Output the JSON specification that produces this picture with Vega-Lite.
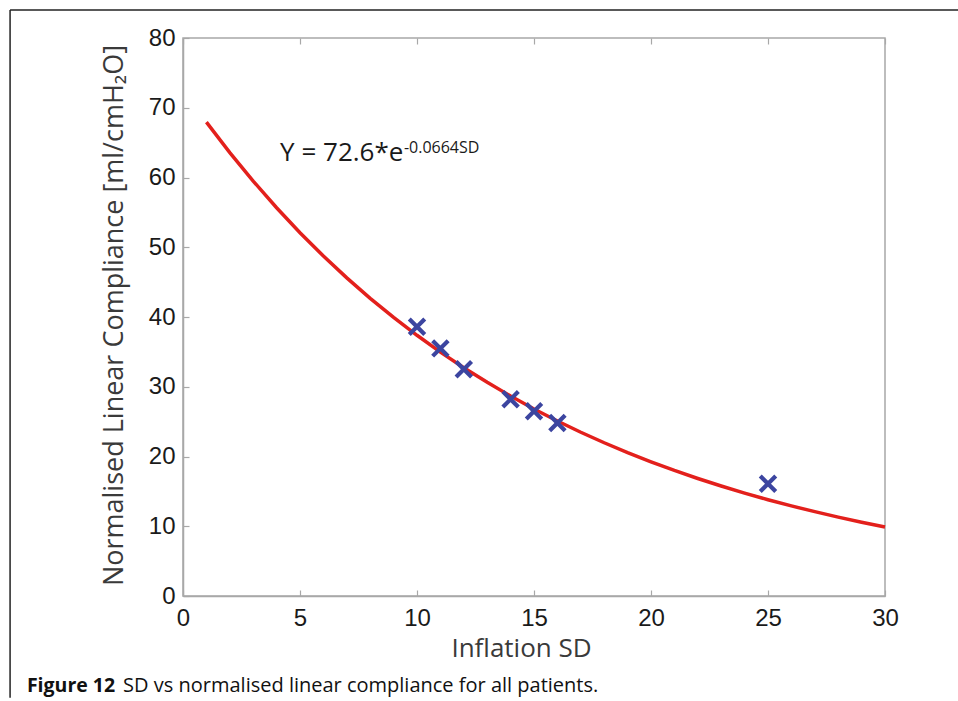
{
  "$schema": "https://vega.github.io/schema/vega-lite/v6.json",
  "width": 702,
  "height": 558,
  "autosize": {"type": "none"},
  "padding": {"left": 183, "top": 38, "right": 73, "bottom": 105},
  "background": "white",
  "config": {
    "view": {"stroke": "#a8a8a8", "strokeWidth": 1.5},
    "axis": {"grid": false, "domainColor": "#a8a8a8", "tickColor": "#a8a8a8", "domainWidth": 1.5, "tickWidth": 1.2}
  },
  "datasets": {
    "fit": [
      {"sd": 1, "c": 67.94}, {"sd": 2, "c": 63.57}, {"sd": 3, "c": 59.49}, {"sd": 4, "c": 55.67},
      {"sd": 5, "c": 52.09}, {"sd": 6, "c": 48.74}, {"sd": 7, "c": 45.61}, {"sd": 8, "c": 42.68},
      {"sd": 9, "c": 39.94}, {"sd": 10, "c": 37.38}, {"sd": 11, "c": 34.97}, {"sd": 12, "c": 32.73},
      {"sd": 13, "c": 30.63}, {"sd": 14, "c": 28.66}, {"sd": 15, "c": 26.82}, {"sd": 16, "c": 25.09},
      {"sd": 17, "c": 23.48}, {"sd": 18, "c": 21.97}, {"sd": 19, "c": 20.56}, {"sd": 20, "c": 19.24},
      {"sd": 21, "c": 18.0}, {"sd": 22, "c": 16.85}, {"sd": 23, "c": 15.77}, {"sd": 24, "c": 14.75},
      {"sd": 25, "c": 13.8}, {"sd": 26, "c": 12.92}, {"sd": 27, "c": 12.09}, {"sd": 28, "c": 11.31},
      {"sd": 29, "c": 10.58}, {"sd": 30, "c": 9.9}
    ],
    "obs": [
      {"sd": 10, "c": 38.6}, {"sd": 11, "c": 35.5}, {"sd": 12, "c": 32.5},
      {"sd": 14, "c": 28.2}, {"sd": 15, "c": 26.5}, {"sd": 16, "c": 24.8}, {"sd": 25, "c": 16.1}
    ],
    "one": [{}]
  },
  "resolve": {"axis": {"x": "independent", "y": "independent"}},
  "layer": [
    {
      "data": {"name": "fit"},
      "mark": {"type": "line", "color": "#e3201c", "strokeWidth": 3.5},
      "encoding": {
        "x": {
          "field": "sd", "type": "quantitative",
          "scale": {"domain": [0, 30], "nice": false, "zero": false},
          "axis": {
            "orient": "bottom", "values": [0, 5, 10, 15, 20, 25, 30], "tickSize": -6,
            "labelPadding": 16, "labelFont": "Liberation Sans", "labelFontSize": 24,
            "labelColor": "#1a1a1a", "labelFlush": false,
            "title": "Inflation SD", "titleFont": "Open Sans", "titleFontSize": 26, "titleFontWeight": "normal",
            "titleColor": "#3a3a3a", "titleBaseline": "alphabetic", "titleX": 338, "titleY": 60
          }
        },
        "y": {
          "field": "c", "type": "quantitative",
          "scale": {"domain": [0, 80], "nice": false},
          "axis": {
            "orient": "left", "values": [0, 10, 20, 30, 40, 50, 60, 70, 80], "tickSize": -6,
            "labelPadding": 14, "labelFont": "Liberation Sans", "labelFontSize": 24,
            "labelColor": "#1a1a1a", "labelFlush": false,
            "title": "Normalised Linear Compliance [ml/cmH₂O]", "titleFont": "Open Sans", "titleFontSize": 27,
            "titleFontWeight": "normal", "titleColor": "#3a3a3a", "titleBaseline": "alphabetic",
            "titleX": -61, "titleY": 277, "titleAngle": -90
          }
        }
      }
    },
    {
      "data": {"name": "obs"},
      "mark": {"type": "point", "shape": "M-1,-1L1,1M1,-1L-1,1", "filled": false, "stroke": "#3c45a0", "strokeWidth": 4.2, "size": 240, "opacity": 1},
      "encoding": {
        "x": {
          "field": "sd", "type": "quantitative",
          "axis": {"orient": "top", "values": [0, 5, 10, 15, 20, 25, 30], "tickSize": -6, "labels": false, "title": null, "domain": false}
        },
        "y": {
          "field": "c", "type": "quantitative",
          "axis": null
        }
      }
    },
    {
      "data": {"name": "one"},
      "mark": {"type": "text", "text": "Y = 72.6*e", "align": "left", "baseline": "alphabetic", "font": "Open Sans", "fontSize": 26, "color": "#1a1a1a"},
      "encoding": {"x": {"datum": 4.15, "axis": null}, "y": {"datum": 62.37, "axis": null}}
    },
    {
      "data": {"name": "one"},
      "mark": {"type": "text", "text": "-0.0664SD", "align": "left", "baseline": "alphabetic", "font": "Open Sans", "fontSize": 16, "color": "#1a1a1a"},
      "encoding": {"x": {"datum": 9.44, "axis": null}, "y": {"datum": 63.5, "axis": null}}
    },
    {
      "data": {"name": "one"},
      "mark": {"type": "text", "text": "Figure 12", "align": "left", "baseline": "alphabetic", "font": "Open Sans", "fontSize": 19.5, "fontWeight": "bold", "color": "#111111"},
      "encoding": {"x": {"datum": -6.67, "axis": null}, "y": {"datum": -13.76, "axis": null}}
    },
    {
      "data": {"name": "one"},
      "mark": {"type": "text", "text": "SD vs normalised linear compliance for all patients.", "align": "left", "baseline": "alphabetic", "font": "Open Sans", "fontSize": 20, "color": "#111111"},
      "encoding": {"x": {"datum": -2.56, "axis": null}, "y": {"datum": -13.76, "axis": null}}
    },
    {
      "data": {"name": "one"},
      "mark": {"type": "rule", "color": "#222222", "strokeWidth": 1.5},
      "encoding": {"x": {"datum": -7.39, "axis": null}, "x2": {"datum": 33.2}, "y": {"datum": 84.0, "axis": null}}
    },
    {
      "data": {"name": "one"},
      "mark": {"type": "rule", "color": "#222222", "strokeWidth": 1.5},
      "encoding": {"x": {"datum": -7.39, "axis": null}, "y": {"datum": 84.0, "axis": null}, "y2": {"datum": -14.6}}
    }
  ]
}
